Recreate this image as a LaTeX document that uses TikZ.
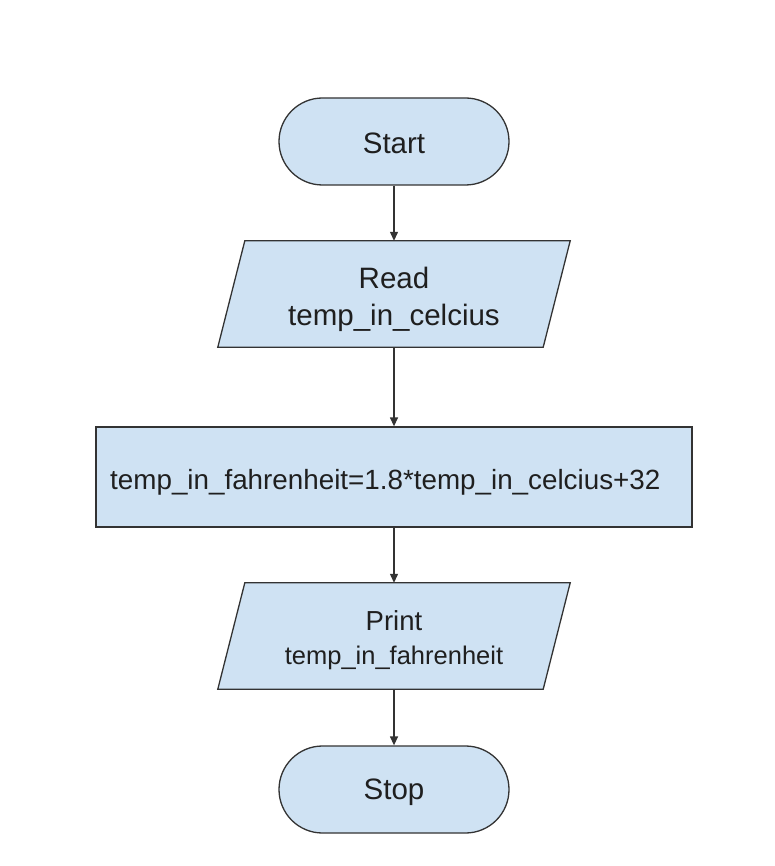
\documentclass[tikz,border=0pt]{standalone}
\usepackage{fontspec}
\setmainfont{Liberation Sans}
\usetikzlibrary{arrows.meta,backgrounds}
\definecolor{boxfill}{HTML}{CFE2F3}
\definecolor{edge}{HTML}{333333}
\tikzset{
  every node/.style={text=black!88},
  term/.style={draw=edge, fill=boxfill, line width=1.3pt, minimum width=230pt, minimum height=87pt, rounded corners=43.5pt, inner sep=0pt},
  iobox/.style={minimum width=352pt, minimum height=106pt, inner sep=0pt},
  procbox/.style={draw=edge, fill=boxfill, line width=1.3pt, minimum width=596pt, minimum height=100pt, inner sep=0pt},
  lbl/.style={inner sep=0pt, align=center},
  para/.style={draw=edge, fill=boxfill, line width=1.3pt},
  flow/.style={draw=edge, line width=1.3pt, -{Triangle[length=9pt,width=8pt]}}
}
\begin{document}
\begin{tikzpicture}[x=1pt,y=-1pt]
\useasboundingbox (0,0) rectangle (774,866);
\node[term] (start) at (394,141.5) {};
\node[lbl, font=\fontsize{29.5}{37}\selectfont] (starttxt) at (394,143.5) {Start};
\node[iobox] (read) at (394,294) {};
\node[lbl, font=\fontsize{29.5}{37}\selectfont] (readtxt) at (394,299) {Read\\temp\_in\_celcius};
\node[procbox] (calc) at (394,477) {};
\node[lbl, font=\fontsize{27.8}{34}\selectfont, anchor=west] (calctxt) at (110,482) {temp\_in\_fahrenheit=1.8*temp\_in\_celcius+32};
\node[iobox] (print) at (394,636) {};
\node[lbl, font=\fontsize{27.5}{34}\selectfont] (printtxt) at (394,640.5) {Print\\\fontsize{25.5}{34}\selectfont temp\_in\_fahrenheit};
\node[term] (stop) at (394,789.5) {};
\node[lbl, font=\fontsize{29.5}{37}\selectfont] (stoptxt) at (394,792.5) {Stop};
\begin{scope}[on background layer]
\path[para] (read.south west) -- ([xshift=-27pt]read.south east) -- (read.north east) -- ([xshift=27pt]read.north west) -- cycle;
\path[para] (print.south west) -- ([xshift=-27pt]print.south east) -- (print.north east) -- ([xshift=27pt]print.north west) -- cycle;
\end{scope}
\draw[flow] (start) -- (read);
\draw[flow] (read) -- (calc);
\draw[flow] (calc) -- (print);
\draw[flow] (print) -- (stop);
\end{tikzpicture}
\end{document}
